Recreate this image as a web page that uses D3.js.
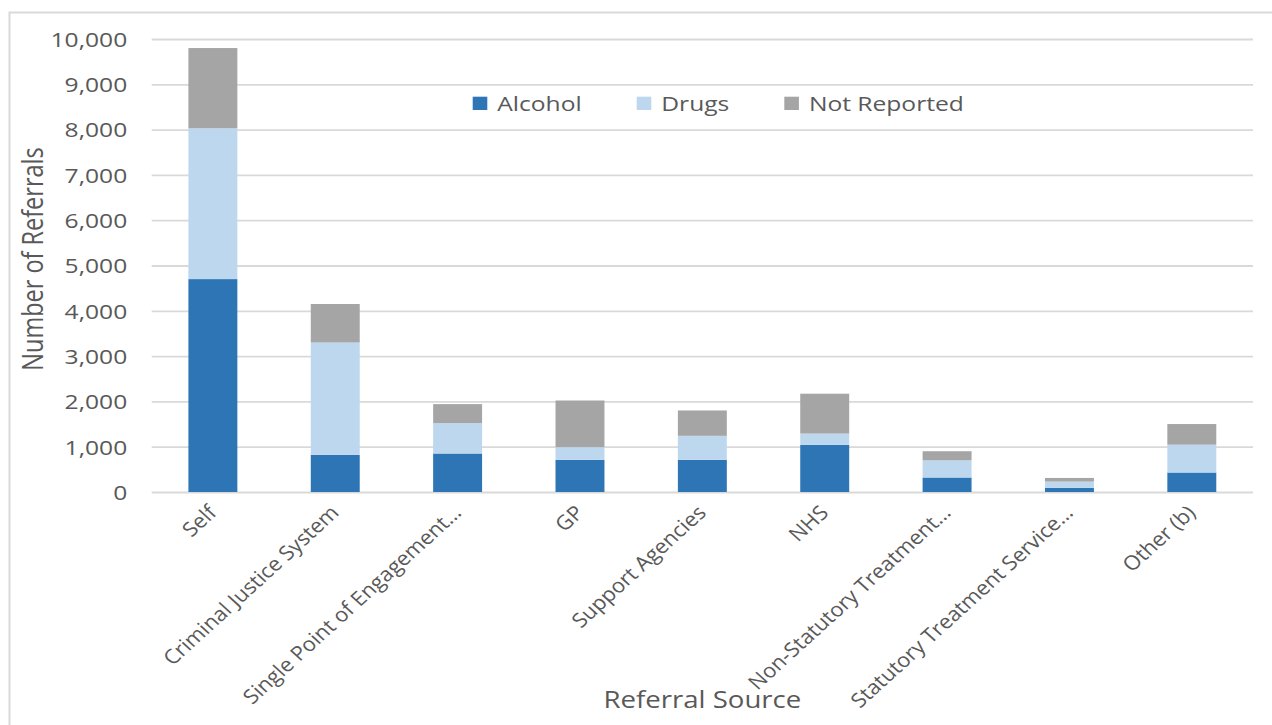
<!DOCTYPE html>
<html>
<head>
<meta charset="utf-8">
<script src="https://cdn.jsdelivr.net/npm/d3@7"></script>
<style>
  html, body { margin: 0; padding: 0; background: #fff; }
  svg { display: block; }
  text { font-family: "Open Sans", sans-serif; fill: #595959; }
</style>
</head>
<body>
<svg id="chart" width="1272" height="725"></svg>
<script>
// Referral sources (x-axis categories)
const categories = [
  "Self",
  "Criminal Justice System",
  "Single Point of Engagement…",
  "GP",
  "Support Agencies",
  "NHS",
  "Non-Statutory Treatment…",
  "Statutory Treatment Service…",
  "Other (b)"
];

// Stacked series, bottom to top
const seriesNames = ["Alcohol", "Drugs", "Not Reported"];
const alcohol     = [4700,  820, 850,  710, 710, 1040, 320,  90, 430];
const drugs       = [3330, 2480, 670,  280, 530,  250, 380, 140, 615];
const notReported = [1770,  850, 420, 1030, 560,  880, 200,  80, 455];

// Y-axis ticks
const yTicks = [0, 1000, 2000, 3000, 4000, 5000, 6000, 7000, 8000, 9000, 10000];

const colors = ["#2E75B6", "#BDD7EE", "#A5A5A5"];

// Text is drawn slightly widened horizontally
const SX = 1.2;
const SX_CAT = 1.1;

const svg = d3.select("#chart");

// Chart frame
svg.append("rect")
  .attr("x", 9.5).attr("y", 12.5)
  .attr("width", 1400).attr("height", 900)
  .attr("fill", "none").attr("stroke", "#d9d9d9").attr("stroke-width", 2);

const plot = { left: 151.7, right: 1253, top: 39, bottom: 492 };

const x = d3.scaleBand()
  .domain(categories)
  .range([plot.left, plot.right])
  .paddingInner(0.6)
  .paddingOuter(0.3);

const y = d3.scaleLinear()
  .domain([0, 10000])
  .range([plot.bottom, plot.top]);

// Gridlines and y tick labels
const yAxis = d3.axisLeft(y)
  .tickValues(yTicks)
  .tickFormat(d3.format(","))
  .tickSize(-(plot.right - plot.left))
  .tickPadding(0);

const yg = svg.append("g")
  .attr("transform", `translate(${plot.left},0)`)
  .call(yAxis);
yg.select(".domain").remove();
yg.selectAll(".tick line").attr("stroke", "#d9d9d9").attr("stroke-width", 1.8);
yg.selectAll(".tick text")
  .attr("x", -24.5 / SX)
  .attr("dy", null)
  .attr("y", 7.3)
  .attr("transform", `scale(${SX},1)`)
  .attr("font-size", 20.5)
  .style("font-family", "'Open Sans', sans-serif")
  .attr("fill", "#595959");

// Stacked bars
const rows = categories.map((c, i) => ({
  category: c,
  "Alcohol": alcohol[i],
  "Drugs": drugs[i],
  "Not Reported": notReported[i]
}));
const stacked = d3.stack().keys(seriesNames)(rows);

svg.append("g")
  .selectAll("g")
  .data(stacked)
  .join("g")
    .attr("fill", (d, i) => colors[i])
  .selectAll("rect")
  .data(d => d)
  .join("rect")
    .attr("x", d => x(d.data.category))
    .attr("width", x.bandwidth())
    .attr("y", d => y(d[1]))
    .attr("height", d => y(d[0]) - y(d[1]));

// X-axis category labels
const xAxis = d3.axisBottom(x).tickSize(0).tickPadding(0);
const xg = svg.append("g")
  .attr("transform", `translate(0,${plot.bottom})`)
  .call(xAxis);
xg.select(".domain").remove();
xg.selectAll(".tick text")
  .attr("x", 0).attr("y", 0).attr("dy", null)
  .attr("text-anchor", "end")
  .attr("transform", `translate(5,22) scale(${SX_CAT},1) rotate(-45)`)
  .attr("font-size", 20)
  .style("font-family", "'Open Sans', sans-serif")
  .attr("fill", "#595959");

// Axis titles
svg.append("text")
  .attr("text-anchor", "middle")
  .attr("transform", `translate(43,259) scale(${SX},1) rotate(-90)`)
  .attr("font-size", 23.5)
  .text("Number of Referrals");

svg.append("text")
  .attr("text-anchor", "middle")
  .attr("transform", `translate(${(plot.left + plot.right) / 2},708) scale(${SX},1)`)
  .attr("font-size", 23)
  .text("Referral Source");

// Legend
const legend = svg.append("g");
let lx = 472.7;
seriesNames.forEach((name, i) => {
  legend.append("rect")
    .attr("x", lx).attr("y", 96.7)
    .attr("width", 14.6).attr("height", 13.3)
    .attr("fill", colors[i]);
  const t = legend.append("text")
    .attr("transform", `translate(${lx + 24.6},110.5) scale(${SX},1)`)
    .attr("font-size", 20.5)
    .text(name);
  lx += 24.6 + t.node().getComputedTextLength() * SX + 55;
});
</script>
</body>
</html>
